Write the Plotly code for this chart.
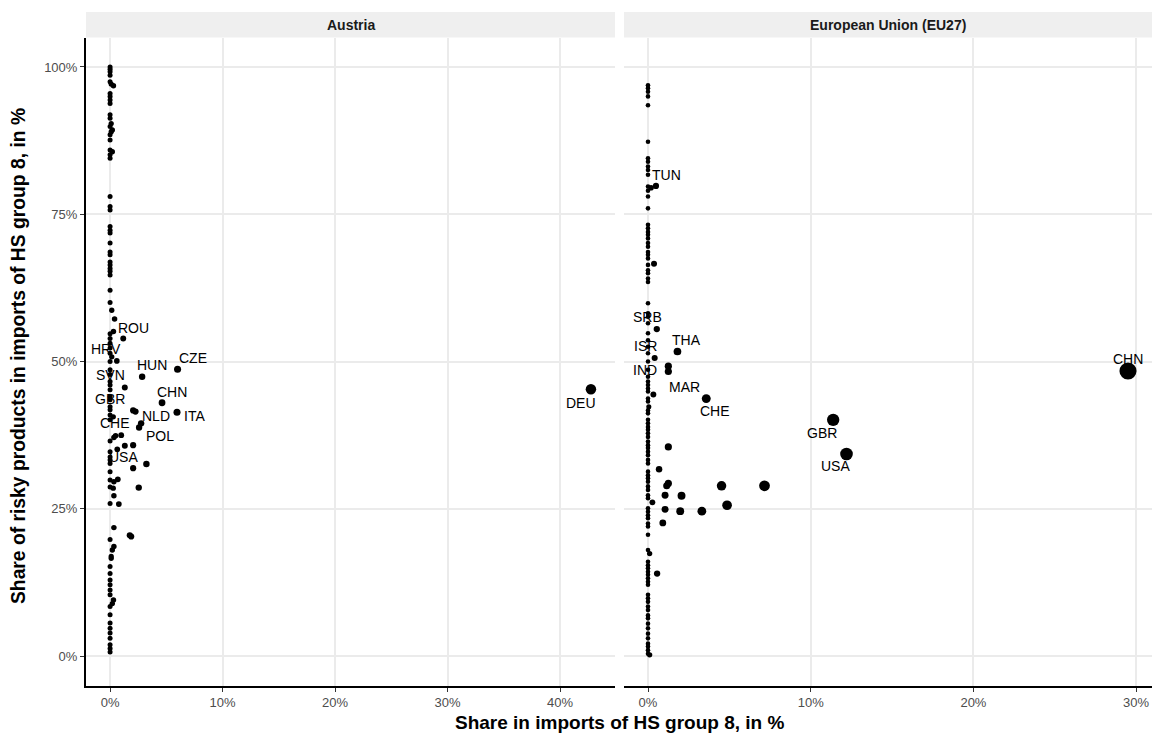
import plotly.graph_objects as go
import math

# ---------------- DATA ----------------
# Austria: share in imports of HS group 8 (%), share of risky products (%), label
at_x = [0.0, 0.0, 0.0, 0.0, 0.0, 0.1, 0.3, 0.0, 0.0, 0.0, 0.0, 0.0, 0.0, 0.1, 0.0, 0.2, 0.1, 0.0, 0.0, 0.0,
        0.2, 0.0, 0.0, 0.0, 0.0, 0.0, 0.0, 0.0, 0.0, 0.0, 0.0, 0.0, 0.0, 0.0, 0.0, 0.0, 0.0, 0.0, 0.0, 0.15,
        0.4, 0.3, 0.0, 0.0, 0.0, 0.0, 0.0, 0.15, 0.6, 0.0, 0.0, 0.0, 0.0, 0.0, 0.0, 0.0, 0.0, 0.0, 0.0, 0.0,
        0.28, 0.0, 0.34, 0.49, 0.99, 0.0, 0.64, 0.0, 0.0, 0.0, 0.0, 0.0, 0.0, 0.34, 0.69, 0.0, 0.28, 0.34, 0.0, 0.78,
        0.34, 0.0, 0.34, 0.2, 0.1, 0.1, 0.0, 0.0, 0.0, 0.0, 0.0, 0.0, 0.3, 0.2, 0.0, 0.0, 0.0, 0.0, 0.0, 0.0,
        0.0, 0.0, 0.0,
        1.17, 2.85, 1.31, 4.62, 5.95, 6.0, 2.05, 2.26, 2.76, 2.58, 1.31, 2.05, 3.23, 2.05, 2.55, 1.75, 1.88, 42.75]
at_y = [100.0, 99.6, 99.2, 98.6, 97.5, 97.1, 96.8, 95.5, 95.0, 94.4, 93.8, 91.9, 91.3, 90.4, 89.9, 89.3, 89.0, 88.5, 87.6, 85.9,
        85.6, 85.1, 84.5, 78.0, 76.3, 75.7, 72.9, 72.3, 71.8, 70.1, 68.6, 68.1, 66.9, 66.4, 65.8, 65.3, 64.7, 62.1, 60.0, 58.7,
        57.2, 55.1, 54.7, 53.9, 53.1, 52.3, 51.4, 50.8, 50.1, 50.0, 48.6, 47.8, 46.6, 46.0, 45.2, 44.0, 43.5, 42.3, 41.8, 40.9,
        40.6, 40.1, 37.1, 37.4, 37.5, 36.5, 35.1, 34.7, 33.8, 33.3, 32.7, 31.3, 29.9, 29.6, 30.0, 28.7, 28.5, 27.2, 25.9, 25.8,
        21.8, 19.8, 18.6, 18.0, 16.9, 16.6, 15.2, 14.0, 12.9, 12.1, 11.2, 10.4, 9.5, 8.9, 8.4, 7.0, 5.6, 4.7, 3.9, 3.0,
        1.9, 1.3, 0.7,
        53.9, 47.4, 45.6, 43.0, 41.4, 48.7, 41.7, 41.5, 39.5, 38.8, 35.7, 35.8, 32.6, 31.9, 28.6, 20.5, 20.3, 45.3]
at_iso = [""] * 45 + ["HRV"] + [""] * 5 + ["SVN"] + [""] * 4 + ["GBR"] + [""] * 3 + ["CHE"] + [""] * 5 + ["USA"] + [""] * 36 + \
         ["ROU", "HUN", "", "CHN", "ITA", "CZE", "", "", "NLD", "POL", "", "", "", "", "", "", "", "DEU"]

# European Union (EU27)
eu_x = [0.0, 0.0, 0.0, 0.0, 0.0, 0.0, 0.0, 0.0, 0.0, 0.0, 0.0, 0.0, 0.19, 0.49, 0.0, 0.0, 0.0, 0.0, 0.0, 0.0,
        0.0, 0.0, 0.0, 0.0, 0.0, 0.0, 0.0, 0.37, 0.0, 0.0, 0.0, 0.0, 0.0, 0.0, 0.0, 0.0, 0.0, 0.54, 0.0, 0.0,
        0.0, 1.81, 0.0, 0.41, 0.0, 1.25, 1.25, 0.0, 0.0, 0.0, 0.0, 0.0, 0.0, 0.33, 0.0, 0.0, 0.05, 0.0, 0.0, 0.0,
        0.0, 0.0, 0.0, 0.0, 0.0, 0.0, 0.0, 0.0, 0.0, 0.0, 0.0, 0.0, 0.0, 0.0, 0.0, 0.0, 0.0, 0.0, 0.0, 0.0,
        0.27, 0.0, 0.0, 0.0, 0.0, 0.0, 0.0, 0.0, 0.0, 0.1, 0.0, 0.0, 0.0, 0.0, 0.0, 0.0, 0.0, 0.0, 0.0, 0.0,
        0.0, 0.0, 0.0, 0.0, 0.0, 0.0, 0.0, 0.0, 0.0, 0.0, 0.0, 0.0, 0.0, 0.1,
        3.58, 1.25, 0.68, 1.25, 1.15, 1.05, 2.06, 1.05, 1.98, 0.91, 4.52, 7.16, 4.86, 3.31, 0.56, 11.38, 12.2, 29.5]
eu_y = [96.9, 96.4, 95.8, 95.0, 93.5, 87.3, 84.5, 83.9, 83.1, 82.5, 81.7, 79.7, 79.5, 79.8, 79.0, 78.0, 76.0, 73.2, 72.6, 72.0,
        71.5, 70.9, 70.1, 69.5, 68.6, 68.1, 67.5, 66.6, 66.4, 65.5, 65.0, 64.1, 63.5, 59.9, 58.2, 57.6, 56.5, 55.5, 54.8, 53.6,
        52.5, 51.7, 51.4, 50.6, 50.0, 49.2, 48.3, 48.6, 47.4, 46.6, 46.0, 45.4, 44.9, 44.4, 43.7, 43.2, 42.3, 41.7, 41.2, 40.1,
        39.5, 38.9, 38.4, 37.8, 37.2, 36.4, 35.8, 35.3, 34.7, 34.1, 33.3, 32.7, 31.3, 30.7, 30.2, 29.6, 28.8, 28.2, 27.3, 26.8,
        26.1, 25.1, 24.5, 23.9, 23.4, 22.5, 22.0, 20.6, 18.0, 17.4, 16.0, 15.4, 14.9, 14.3, 13.8, 13.2, 12.6, 12.1, 10.4, 9.8,
        9.2, 8.4, 7.8, 6.9, 6.4, 5.5, 4.7, 3.8, 3.0, 2.1, 1.6, 1.0, 0.4, 0.2,
        43.7, 35.5, 31.7, 29.3, 28.9, 27.3, 27.2, 24.9, 24.6, 22.6, 28.9, 28.9, 25.6, 24.6, 14.0, 40.1, 34.3, 48.4]
eu_iso = [""] * 13 + ["TUN"] + [""] * 21 + ["SRB"] + [""] * 4 + ["ISR", "THA", "", "", "", "", "", "IND"] + [""] * 5 + ["MAR"] + [""] * 60 + \
         ["CHE"] + [""] * 14 + ["GBR", "USA", "CHN"]

x_ticks = [0, 10, 20, 30, 40]
y_ticks = [0, 25, 50, 75, 100]
panel_titles = ["Austria", "European Union (EU27)"]
x_title = "Share in imports of HS group 8, in %"
y_title = "Share of risky products in imports of HS group 8, in %"

# ---------------- STYLE ----------------
W, H = 1154, 738
FONT = "Liberation Sans, Arial, sans-serif"
label_shift = {  # pixel offsets of repelled labels (dx right, dy up)
    "at": {"ROU": (10, 11), "HRV": (-4, -1), "SVN": (0, -1), "GBR": (0, 1), "CHE": (2, -6), "USA": (6, -8),
           "HUN": (10, 12), "CZE": (15, 11), "CHN": (10, 11), "ITA": (17, -4), "NLD": (15, 7), "POL": (21, -9),
           "DEU": (-10, -14)},
    "eu": {"TUN": (11, 11), "SRB": (-1, 0), "ISR": (-3, 1), "IND": (-3, 0), "THA": (9, 11), "MAR": (31, 7),
           "CHE": (9, -12), "GBR": (-11, -13), "USA": (-11, -12), "CHN": (0, 12)},
}

def px_x(p):
    return p / W

def px_y(p):
    return 1 - p / H

left_dom = [px_x(86), px_x(615)]
right_dom = [px_x(624), px_x(1152)]
y_dom = [px_y(685.5), px_y(37.5)]

fig = go.Figure()

def sizes(xs, base, k):
    return [base + k * math.sqrt(max(v, 0)) for v in xs]

fig.add_trace(go.Scatter(x=at_x, y=at_y, mode="markers", xaxis="x", yaxis="y",
                         marker=dict(color="black", opacity=1, size=sizes(at_x, 5.0, 0.84), line=dict(width=0)),
                         hoverinfo="skip", showlegend=False))
fig.add_trace(go.Scatter(x=eu_x, y=eu_y, mode="markers", xaxis="x2", yaxis="y2",
                         marker=dict(color="black", opacity=1, size=sizes(eu_x, 4.6, 2.3), line=dict(width=0)),
                         hoverinfo="skip", showlegend=False))

annotations = []
for key, xs, ys, isos, xr, yr in [("at", at_x, at_y, at_iso, "x", "y"), ("eu", eu_x, eu_y, eu_iso, "x2", "y2")]:
    for xv, yv, iso in zip(xs, ys, isos):
        if iso:
            dx, dy = label_shift[key].get(iso, (0, 10))
            annotations.append(dict(x=xv, y=yv, xref=xr, yref=yr, text=iso, showarrow=False,
                                    xshift=dx, yshift=dy, font=dict(family=FONT, size=14, color="black"),
                                    xanchor="center", yanchor="middle"))

# strips
shapes = []
for dom, title in [(left_dom, panel_titles[0]), (right_dom, panel_titles[1])]:
    shapes.append(dict(type="rect", xref="paper", yref="paper", x0=dom[0], x1=dom[1],
                       y0=px_y(37.5), y1=px_y(12), fillcolor="#efefef", line=dict(width=0), layer="below"))
    annotations.append(dict(x=(dom[0] + dom[1]) / 2, y=px_y(24.5), xref="paper", yref="paper", text="<b>%s</b>" % title,
                            showarrow=False, font=dict(family=FONT, size=14, color="#1a1a1a"),
                            xanchor="center", yanchor="middle"))

# axis titles
annotations.append(dict(x=px_x(619), y=px_y(722), xref="paper", yref="paper", text="<b>%s</b>" % x_title,
                        showarrow=False, font=dict(family=FONT, size=19, color="black"),
                        xanchor="center", yanchor="middle"))
annotations.append(dict(x=px_x(19), y=px_y(356), xref="paper", yref="paper", text="<b>%s</b>" % y_title,
                        showarrow=False, textangle=-90, font=dict(family=FONT, size=19.3, color="black"),
                        xanchor="center", yanchor="middle"))

grid = "#ebebeb"
tickfont = dict(family=FONT, size=13, color="#4d4d4d")
common_x = dict(showgrid=True, gridcolor=grid, gridwidth=1.5, zeroline=False, showline=True, linecolor="black",
                linewidth=2, ticks="outside", ticklen=4, tickcolor="#333333", tickwidth=1, tickfont=tickfont,
                tickvals=x_ticks, ticktext=["%d%%" % v for v in x_ticks], fixedrange=True)

fig.update_layout(
    width=W, height=H, autosize=False,
    margin=dict(l=0, r=0, t=0, b=0),
    paper_bgcolor="white", plot_bgcolor="white",
    xaxis=dict(domain=left_dom, range=[-2.14, 44.89], anchor="y", **common_x),
    xaxis2=dict(domain=right_dom, range=[-1.475, 30.975], anchor="y2", **common_x),
    yaxis=dict(domain=y_dom, range=[-5, 105], anchor="x", showgrid=True, gridcolor=grid, gridwidth=1.5,
               zeroline=False, showline=True, linecolor="black", linewidth=2, ticks="outside", ticklen=4,
               tickcolor="#333333", tickwidth=1, tickfont=tickfont, tickvals=y_ticks,
               ticktext=["%d%%" % v for v in y_ticks], fixedrange=True),
    yaxis2=dict(domain=y_dom, range=[-5, 105], anchor="x2", matches="y", showgrid=True, gridcolor=grid,
                gridwidth=1.5, zeroline=False, showline=False, ticks="", showticklabels=False,
                tickvals=y_ticks, fixedrange=True),
    shapes=shapes,
    annotations=annotations,
    font=dict(family=FONT),
)

fig.write_html("out.html", config={"displayModeBar": False})
